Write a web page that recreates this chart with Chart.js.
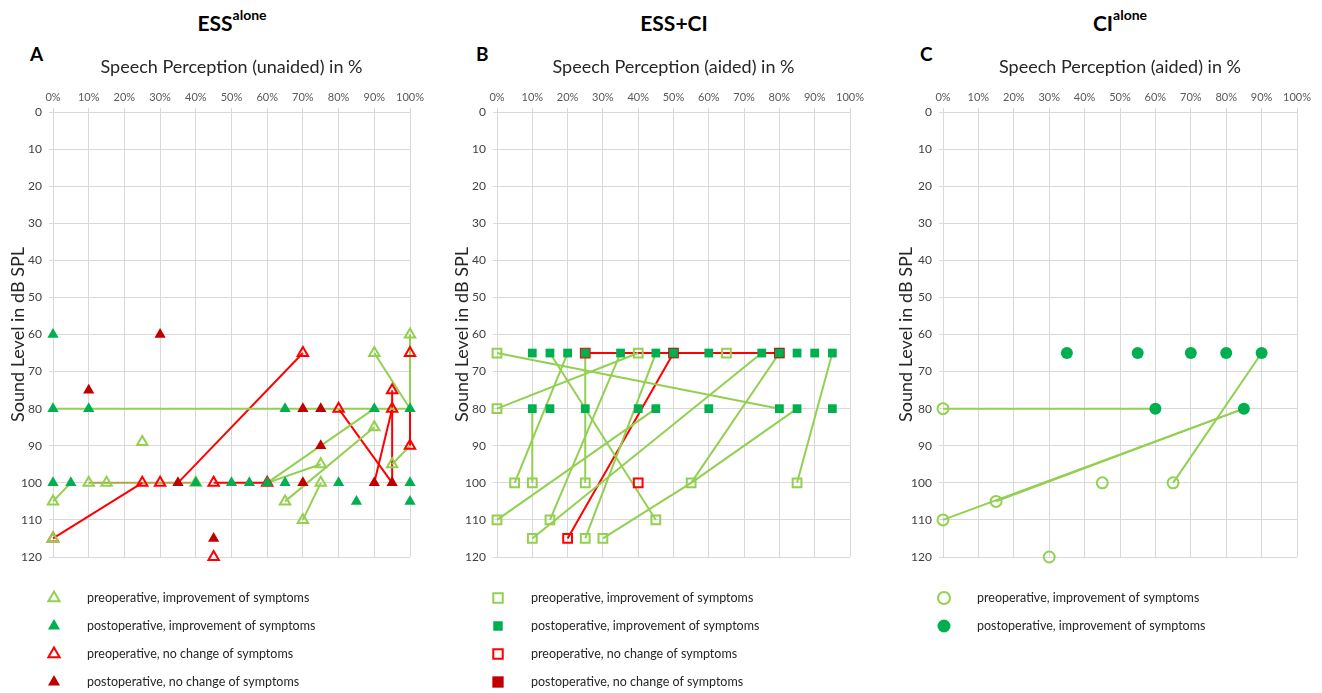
<!DOCTYPE html>
<html>
<head>
<meta charset="utf-8">
<script src="https://cdn.jsdelivr.net/npm/chart.js@4.4.1/dist/chart.umd.min.js"></script>
<style>
  body { margin: 0; background: #fff; width: 1322px; height: 693px; overflow: hidden; font-family: Lato, "Open Sans", sans-serif; }
  canvas { position: absolute; top: 0; }
  .title { position: absolute; top: 10px; width: 300px; text-align: center; font: bold 21px/25px Lato, sans-serif; color: #000; }
  .title sup { font-size: 14px; position: relative; top: -2px; vertical-align: top; line-height: 14px; }
  .letter { position: absolute; top: 43px; font: bold 19px/22px Lato, sans-serif; color: #000; }
</style>
</head>
<body>
<div class="title" style="left:82px">ESS<sup>alone</sup></div>
<div class="title" style="left:524px">ESS+CI</div>
<div class="title" style="left:970px">CI<sup>alone</sup></div>
<div class="letter" style="left:30px">A</div>
<div class="letter" style="left:476px">B</div>
<div class="letter" style="left:920px">C</div>
<canvas id="chartA" width="444" height="693" style="left:0"></canvas>
<canvas id="chartB" width="444" height="693" style="left:444px"></canvas>
<canvas id="chartC" width="434" height="693" style="left:888px"></canvas>
<script>
// legend labels
const seriesNames = [
  "preoperative, improvement of symptoms",
  "postoperative, improvement of symptoms",
  "preoperative, no change of symptoms",
  "postoperative, no change of symptoms"
];
const xTitleA = "Speech Perception (unaided) in %";
const xTitleBC = "Speech Perception (aided) in %";
const yTitle = "Sound Level in dB SPL";
const xTickValues = [0, 10, 20, 30, 40, 50, 60, 70, 80, 90, 100];
const yTickValues = [0, 10, 20, 30, 40, 50, 60, 70, 80, 90, 100, 110, 120];

// A: ESS alone  [speech %, dB]
const essAlonePreImp = [[0,105],[0,115],[10,100],[15,100],[25,89],[40,100],[65,105],[70,110],[75,100],[75,95],[90,85],[90,65],[95,95],[100,60]];
const essAlonePostImp = [[0,60],[0,80],[10,80],[0,100],[5,100],[40,100],[50,100],[55,100],[60,100],[65,100],[80,100],[65,80],[90,80],[100,80],[100,100],[85,105],[100,105]];
const essAlonePreNo = [[0,115],[25,100],[30,100],[45,100],[45,120],[60,100],[70,65],[80,80],[95,75],[95,80],[100,65],[100,90]];
const essAlonePostNo = [[10,75],[30,60],[35,100],[45,115],[70,80],[75,80],[75,90],[70,100],[90,100],[95,100]];
// pre -> post connections [x1, y1, x2, y2]
const essAloneLinksImp = [[0,105,5,100],[0,80,100,80],[60,100,90,80],[60,100,75,95],[65,105,90,85],[70,110,75,100],[90,65,100,80],[100,60,100,80],[95,95,100,90]];
const essAloneLinksNo = [[0,115,25,100],[35,100,70,65],[45,100,60,100],[80,80,95,100],[95,75,95,100],[90,100,95,80],[100,65,100,90]];
const essAloneLinksMixed = [[10,100,40,100]];

// B: ESS + CI
const essCiPreImp = [[0,65],[40,65],[65,65],[0,80],[5,100],[10,100],[25,100],[55,100],[85,100],[0,110],[15,110],[45,110],[10,115],[25,115],[30,115]];
const essCiPostImp = [[10,65],[15,65],[20,65],[25,65],[35,65],[45,65],[50,65],[60,65],[75,65],[80,65],[85,65],[90,65],[95,65],[10,80],[15,80],[25,80],[40,80],[45,80],[60,80],[80,80],[85,80],[95,80]];
const essCiPreNo = [[20,115],[40,100],[25,65]];
const essCiPostNo = [[50,65],[80,65]];
const essCiLinksImp = [[0,65,80,80],[0,80,40,65],[5,100,20,65],[10,100,10,80],[15,65,45,110],[25,100,25,65],[15,110,35,65],[0,110,45,80],[10,115,75,65],[25,115,45,65],[30,115,55,100],[55,100,80,65],[55,100,85,80],[85,100,95,65]];
const essCiLinksNo = [[20,115,50,65],[25,65,80,65]];

// C: CI alone
const ciAlonePreImp = [[0,80],[0,110],[15,105],[30,120],[45,100],[65,100]];
const ciAlonePostImp = [[35,65],[55,65],[70,65],[80,65],[90,65],[60,80],[85,80]];
const ciAloneLinksImp = [[0,80,60,80],[0,110,85,80],[15,105,85,80],[65,100,90,65]];

const LIGHT_GREEN = "#92D050";
const GREEN = "#00B050";
const RED = "#FF0000";
const DARK_RED = "#C00000";
const OLIVE = "#b3a04a";

const toPts = (arr) => arr.map(([x, y]) => ({ x, y }));

function markers(arr, style, open, color, radius, row, order) {
  return {
    data: toPts(arr),
    label: seriesNames[row],
    legendRow: row,
    pointStyle: style,
    pointRadius: radius,
    pointBorderWidth: open ? 2 : 0,
    borderWidth: open ? 2 : 0,
    borderColor: color,
    pointBorderColor: color,
    backgroundColor: open ? "rgba(255,255,255,0)" : color,
    pointBackgroundColor: open ? "rgba(255,255,255,0)" : color,
    showLine: false,
    clip: false,
    order: order
  };
}

function links(arr, color) {
  return arr.map(([x1, y1, x2, y2]) => ({
    data: [{ x: x1, y: y1 }, { x: x2, y: y2 }],
    showLine: true,
    borderColor: color,
    borderWidth: 2,
    pointRadius: 0,
    fill: false,
    clip: false,
    order: 10
  }));
}

// draws the legend list below the plot
const markerLegend = {
  id: "markerLegend",
  afterDraw(chart, args, opts) {
    const ctx = chart.ctx;
    const left = chart.chartArea.left;
    chart.data.datasets.forEach((ds) => {
      if (ds.legendRow === undefined) return;
      const y = opts.top + ds.legendRow * opts.rowGap;
      ctx.save();
      ctx.fillStyle = ds.backgroundColor;
      ctx.strokeStyle = ds.borderColor;
      ctx.lineWidth = ds.borderWidth;
      Chart.helpers.drawPoint(ctx, {
        pointStyle: ds.pointStyle,
        radius: ds.pointRadius + 0.5,
        borderWidth: ds.borderWidth,
        rotation: 0
      }, left + 1, y);
      ctx.fillStyle = "#262626";
      ctx.font = "12.5px Lato";
      ctx.textBaseline = "middle";
      ctx.textAlign = "left";
      ctx.fillText(ds.label, left + 34, y);
      ctx.restore();
    });
  }
};

function makeChart(id, datasets, xTitle, plotLeft, padRight) {
  return new Chart(document.getElementById(id), {
    type: "scatter",
    data: { datasets: datasets },
    plugins: [markerLegend],
    options: {
      responsive: false,
      animation: false,
      events: [],
      layout: { padding: { left: 0, right: padRight, top: 0, bottom: 136 } },
      plugins: {
        legend: { display: false },
        tooltip: { enabled: false },
        markerLegend: { top: 598, rowGap: 28 }
      },
      scales: {
        x: {
          type: "linear",
          position: "top",
          min: 0,
          max: 100,
          afterBuildTicks: (s) => { s.ticks = xTickValues.map((v) => ({ value: v })); },
          afterFit: (s) => { s.height = 112; },
          ticks: {
            callback: (v) => v + "%",
            font: { family: "Lato", size: 11 },
            color: "#595959",
            padding: 4,
            maxRotation: 0
          },
          grid: { color: "#d9d9d9", tickLength: 4 },
          border: { color: "#d9d9d9" },
          title: {
            display: true,
            text: xTitle,
            font: { family: "Lato", size: 18 },
            color: "#262626",
            padding: { top: 56, bottom: 0 }
          }
        },
        y: {
          type: "linear",
          reverse: true,
          min: 0,
          max: 120,
          afterBuildTicks: (s) => { s.ticks = yTickValues.map((v) => ({ value: v })); },
          afterFit: (s) => { s.width = plotLeft; },
          ticks: {
            font: { family: "Lato", size: 12 },
            color: "#404040",
            padding: 7
          },
          grid: { color: "#d9d9d9", tickLength: 4 },
          border: { color: "#d9d9d9" },
          title: {
            display: true,
            text: yTitle,
            font: { family: "Lato", size: 18 },
            color: "#262626",
            padding: { top: 7, bottom: 0 }
          }
        }
      }
    }
  });
}

makeChart("chartA", [
  markers(essAlonePostImp, "triangle", false, GREEN, 6.5, 1, 1),
  markers(essAlonePostNo, "triangle", false, DARK_RED, 6.5, 3, 2),
  markers(essAlonePreImp, "triangle", true, LIGHT_GREEN, 6, 0, 3),
  markers(essAlonePreNo, "triangle", true, RED, 6, 2, 4),
  ...links(essAloneLinksImp, LIGHT_GREEN),
  ...links(essAloneLinksNo, RED),
  ...links(essAloneLinksMixed, OLIVE)
], xTitleA, 53, 34);

makeChart("chartB", [
  markers(essCiPostImp, "rect", false, GREEN, 6.2, 1, 1),
  markers(essCiPostNo, "rect", false, DARK_RED, 7.5, 3, 2),
  markers(essCiPreImp, "rect", true, LIGHT_GREEN, 6.2, 0, 3),
  markers(essCiPreNo, "rect", true, RED, 6.2, 2, 4),
  ...links(essCiLinksImp, LIGHT_GREEN),
  ...links(essCiLinksNo, RED)
], xTitleBC, 53, 38);

makeChart("chartC", [
  markers(ciAlonePostImp, "circle", false, GREEN, 6, 1, 1),
  markers(ciAlonePreImp, "circle", true, LIGHT_GREEN, 5.5, 0, 3),
  ...links(ciAloneLinksImp, LIGHT_GREEN)
], xTitleBC, 55, 25);
</script>
</body>
</html>
